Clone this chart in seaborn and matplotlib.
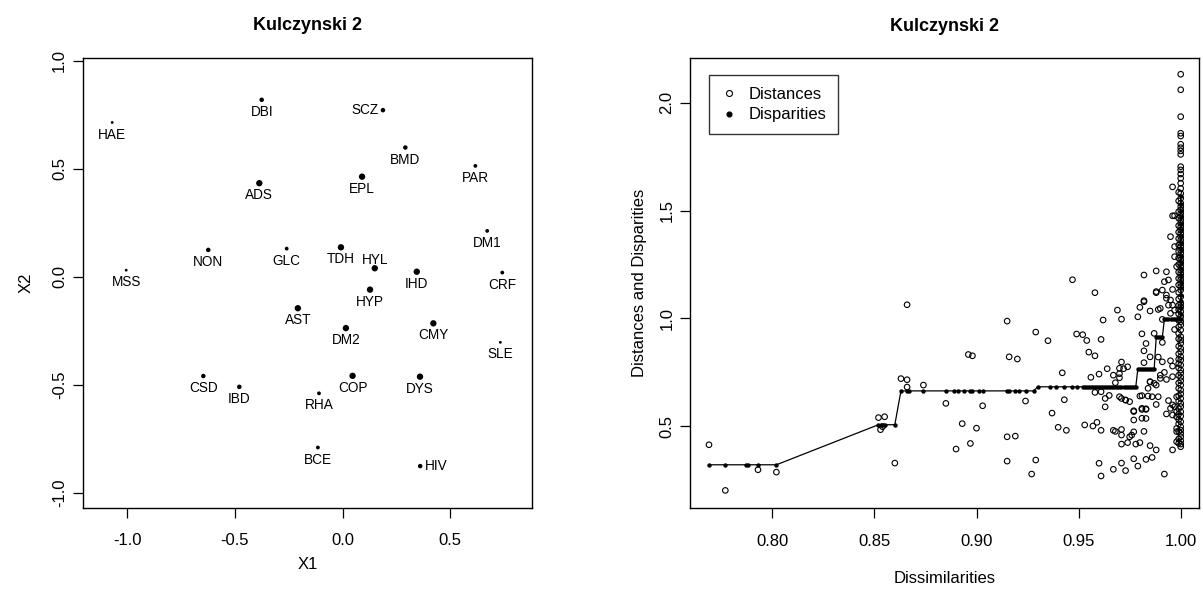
import matplotlib
matplotlib.use("Agg")
import matplotlib.pyplot as plt
import seaborn as sns
import pandas as pd
from matplotlib.lines import Line2D

# ---------------- data ----------------
codes = ["HAE", "DBI", "ADS", "NON", "GLC", "TDH", "MSS", "SCZ", "BMD", "PAR",
         "EPL", "DM1", "HYL", "IHD", "CRF", "HYP", "AST", "DM2", "CSD", "IBD",
         "COP", "RHA", "BCE", "CMY", "SLE", "DYS", "HIV"]
x1 = [-1.070, -0.376, -0.387, -0.624, -0.260, -0.008, -1.005, 0.187, 0.291, 0.616,
      0.090, 0.671, 0.149, 0.344, 0.741, 0.127, -0.208, 0.015, -0.647, -0.480,
      0.046, -0.110, -0.115, 0.421, 0.732, 0.359, 0.360]
x2 = [0.714, 0.819, 0.433, 0.124, 0.130, 0.136, 0.030, 0.771, 0.598, 0.513,
      0.463, 0.212, 0.039, 0.023, 0.019, -0.060, -0.146, -0.238, -0.460, -0.510,
      -0.459, -0.540, -0.791, -0.216, -0.304, -0.463, -0.877]
weight = [1, 3, 4, 3, 2, 4, 1, 3, 3, 2,
          4, 2, 4, 4, 2, 4, 4, 4, 3, 3,
          4, 2, 2, 4, 1, 4, 3]
label_side = ["below", "below", "below", "below", "below", "below", "below", "left", "below", "below",
              "below", "below", "above", "below", "below", "below", "below", "below", "below", "below",
              "below", "below", "below", "below", "below", "below", "right"]

# Shepard diagram: distances (open circles)
dist_x = [
    0.769, 0.777, 0.793, 0.802, 0.852, 0.855, 0.853, 0.854, 0.860, 0.866, 0.863, 0.866, 0.866, 0.874, 0.885,
    0.958, 0.969, 0.962, 0.971, 0.979, 0.980, 0.982, 0.988, 0.993, 0.994, 0.996, 0.989, 0.985, 0.991, 0.995,
    0.997, 0.915, 0.929, 0.935, 0.949, 0.952, 0.954, 0.961, 0.981, 0.987, 0.991, 0.997, 0.896, 0.898, 0.916,
    0.920, 0.955, 0.958, 0.971, 0.972, 0.964, 0.967, 0.960, 0.956, 0.942, 0.968, 0.970, 0.974, 0.982, 0.982,
    0.983, 0.985, 0.989, 0.991, 0.995, 0.996, 0.990, 0.993, 0.996, 0.985, 0.988, 0.903, 0.924, 0.943, 0.958,
    0.963, 0.963, 0.965, 0.971, 0.973, 0.975, 0.980, 0.984, 0.986, 0.988, 0.993, 0.995, 0.997, 0.981, 0.983,
    0.977, 0.977, 0.983, 0.937, 0.893, 0.900, 0.890, 0.897, 0.915, 0.919, 0.940, 0.944, 0.953, 0.957, 0.959,
    0.961, 0.967, 0.968, 0.971, 0.971, 0.975, 0.976, 0.977, 0.978, 0.974, 0.971, 0.980, 0.982, 0.985, 0.988,
    0.986, 0.983, 0.977, 0.979, 0.971, 0.973, 0.967, 0.960, 0.961, 0.915, 0.929, 0.927, 0.992, 0.996,
    0.996, 0.996, 0.997, 0.995, 0.997, 0.997, 0.998, 0.988, 0.993, 0.994, 0.992, 0.982, 0.947, 0.988, 0.991,
    0.996, 0.995, 0.993, 0.982, 0.990,
    0.970, 0.970, 0.961, 0.970, 0.973, 0.981, 0.983, 0.981, 0.981, 0.977, 0.985, 0.984, 0.987, 0.990, 0.992,
    0.989, 0.994, 0.996, 0.996, 0.998, 0.998, 0.998, 0.998, 0.998, 0.998,
    1.000, 1.000, 1.000, 1.000, 1.000, 1.000, 1.000, 1.000, 1.000, 1.000, 1.000, 1.000, 1.000, 1.000, 1.000,
    1.000, 1.000, 1.000, 1.000, 1.000, 1.000, 1.000, 1.000, 1.000, 1.000, 1.000, 1.000, 1.000, 1.000, 1.000,
    1.000, 1.000, 1.000, 1.000, 1.000, 1.000, 1.000, 1.000, 1.000, 1.000, 1.000, 1.000, 1.000, 1.000, 1.000,
    1.000, 1.000, 1.000, 1.000, 1.000, 1.000, 1.000, 1.000, 1.000, 1.000, 1.000, 1.000, 1.000, 1.000, 1.000,
    1.000, 1.000, 1.000, 1.000, 1.000, 1.000, 1.000, 1.000, 1.000, 1.000, 1.000, 1.000, 1.000, 1.000, 1.000,
    1.000, 1.000, 1.000, 1.000, 1.000,
    0.999, 0.999, 0.999, 0.999, 0.999, 0.999, 0.999, 0.999, 0.999, 0.999, 0.999, 0.999, 0.999, 0.999, 0.999,
    0.999, 0.999, 0.999, 0.999, 0.999, 0.999, 0.999, 0.999, 0.999, 0.999, 0.999, 0.999, 0.999, 0.999, 0.999,
    0.999, 0.999, 0.999, 0.999, 0.999, 0.999, 0.999, 0.999, 0.999, 0.999,
]
dist_y = [
    0.413, 0.201, 0.297, 0.286, 0.539, 0.543, 0.483, 0.497, 0.328, 1.063, 0.720, 0.715, 0.681, 0.690, 0.605,
    1.119, 1.038, 0.992, 0.996, 1.007, 1.051, 1.077, 1.119, 1.108, 1.061, 1.061, 1.041, 1.034, 0.995, 1.023,
    1.038, 0.987, 0.936, 0.896, 0.927, 0.924, 0.897, 0.902, 0.928, 0.930, 0.888, 0.948, 0.832, 0.826, 0.821,
    0.811, 0.843, 0.826, 0.797, 0.766, 0.766, 0.736, 0.741, 0.726, 0.747, 0.701, 0.743, 0.775, 0.794, 0.849,
    0.883, 0.821, 0.820, 0.798, 0.803, 0.778, 0.736, 0.716, 0.729, 0.705, 0.690, 0.594, 0.616, 0.622, 0.656,
    0.628, 0.589, 0.642, 0.628, 0.620, 0.613, 0.639, 0.639, 0.636, 0.600, 0.556, 0.582, 0.590, 0.582, 0.580,
    0.567, 0.528, 0.535, 0.560, 0.511, 0.490, 0.393, 0.419, 0.450, 0.453, 0.494, 0.480, 0.505, 0.500, 0.517,
    0.480, 0.480, 0.475, 0.484, 0.458, 0.450, 0.458, 0.473, 0.416, 0.423, 0.416, 0.423, 0.475, 0.409, 0.389,
    0.354, 0.345, 0.348, 0.314, 0.328, 0.293, 0.299, 0.327, 0.268, 0.337, 0.342, 0.277, 0.277, 0.389,
    1.610, 1.476, 1.476, 1.379, 1.333, 1.286, 1.240, 1.220, 1.216, 1.178, 1.170, 1.201, 1.179, 1.124, 1.131,
    1.134, 1.085, 1.093, 1.082, 1.046,
    0.724, 0.768, 0.659, 0.636, 0.621, 0.641, 0.577, 0.577, 0.536, 0.571, 0.706, 0.675, 0.698, 0.721, 0.749,
    0.636, 0.618, 0.598, 0.551, 0.636, 0.567, 0.543, 0.474, 0.427, 0.489,
    2.133, 2.061, 1.936, 1.859, 1.846, 1.808, 1.792, 1.777, 1.761, 1.704, 1.689, 1.670, 1.650, 1.627, 1.603,
    1.580, 1.557, 1.534, 1.518, 1.503, 1.487, 1.472, 1.456, 1.441, 1.425, 1.410, 1.394, 1.379, 1.363, 1.348,
    1.333, 1.317, 1.302, 1.286, 1.271, 1.255, 1.240, 1.224, 1.209, 1.193, 1.178, 1.162, 1.147, 1.131, 1.100,
    1.069, 1.054, 1.031, 1.008, 0.984, 0.969, 0.946, 0.915, 0.899, 0.884, 0.860, 0.845, 0.822, 0.806, 0.783,
    0.760, 0.745, 0.726, 0.710, 0.690, 0.667, 0.649, 0.628, 0.605, 0.590, 0.566, 0.546, 0.520, 0.497, 0.481,
    0.466, 0.450, 0.432, 0.416, 0.404,
    1.585, 1.545, 1.495, 1.465, 1.430, 1.400, 1.370, 1.340, 1.310, 1.280, 1.250, 1.215, 1.185, 1.155, 1.120,
    1.090, 1.060, 1.040, 1.020, 0.990, 0.960, 0.930, 0.905, 0.870, 0.835, 0.810, 0.790, 0.770, 0.735, 0.700,
    0.675, 0.640, 0.615, 0.580, 0.555, 0.530, 0.510, 0.475, 0.440, 0.420,
]

# Shepard diagram: disparities (filled dots joined by a line)
disp_x = [
    0.769, 0.777, 0.787, 0.788, 0.793, 0.802,
    0.852, 0.853, 0.854, 0.855, 0.860,
    0.863, 0.866, 0.867, 0.874, 0.885, 0.889, 0.891, 0.894, 0.897, 0.898, 0.901, 0.903, 0.915, 0.916, 0.919,
    0.921, 0.924, 0.928,
    0.930, 0.936, 0.939, 0.943, 0.947, 0.949, 0.952, 0.953, 0.954, 0.955, 0.956, 0.957, 0.958, 0.959, 0.960,
    0.961, 0.962, 0.963, 0.964, 0.965, 0.966, 0.967, 0.968, 0.969, 0.970, 0.971, 0.972, 0.973, 0.974, 0.975,
    0.976, 0.977, 0.978,
    0.979, 0.980, 0.981, 0.982, 0.983, 0.984, 0.985, 0.986, 0.987,
    0.988, 0.989, 0.990, 0.991,
    0.992, 0.993, 0.994, 0.995, 0.996, 0.997, 0.998, 0.999, 1.000,
    1.000, 1.000, 1.000, 1.000, 1.000, 1.000, 1.000, 1.000, 1.000, 1.000, 1.000, 1.000, 1.000, 1.000, 1.000,
    1.000, 1.000, 1.000, 1.000,
]
disp_y = [
    0.320, 0.320, 0.320, 0.320, 0.320, 0.320,
    0.506, 0.506, 0.506, 0.506, 0.506,
    0.663, 0.663, 0.663, 0.663, 0.663, 0.663, 0.663, 0.663, 0.663, 0.663, 0.663, 0.663, 0.663, 0.663, 0.663,
    0.663, 0.663, 0.663,
    0.682, 0.682, 0.682, 0.682, 0.682, 0.682, 0.682, 0.682, 0.682, 0.682, 0.682, 0.682, 0.682, 0.682, 0.682,
    0.682, 0.682, 0.682, 0.682, 0.682, 0.682, 0.682, 0.682, 0.682, 0.682, 0.682, 0.682, 0.682, 0.682, 0.682,
    0.682, 0.682, 0.682,
    0.765, 0.765, 0.765, 0.765, 0.765, 0.765, 0.765, 0.765, 0.765,
    0.912, 0.912, 0.912, 0.912,
    0.995, 0.995, 0.995, 0.995, 0.995, 0.995, 0.995, 0.995, 0.995,
    1.020, 1.050, 1.080, 1.110, 1.140, 1.170, 1.200, 1.230, 1.260, 1.290, 1.320, 1.350, 1.380, 1.410, 1.440,
    1.470, 1.500, 1.530, 1.570,
]

title_text = "Kulczynski 2"
left_xticks = [-1.0, -0.5, 0.0, 0.5]
left_yticks = [-1.0, -0.5, 0.0, 0.5, 1.0]
right_xticks = [0.80, 0.85, 0.90, 0.95, 1.00]
right_yticks = [0.5, 1.0, 1.5, 2.0]

# ---------------- style ----------------
sns.set_theme(style="ticks")
plt.rcParams["font.family"] = ["Liberation Sans", "DejaVu Sans"]
plt.rcParams.update({
    "axes.edgecolor": "black",
    "axes.linewidth": 1.0,
    "xtick.color": "black",
    "ytick.color": "black",
    "xtick.direction": "out",
    "ytick.direction": "out",
    "xtick.major.size": 7.2,
    "ytick.major.size": 7.2,
    "xtick.major.width": 0.9,
    "ytick.major.width": 0.9,
    "axes.unicode_minus": False,
    "text.color": "black",
    "axes.labelcolor": "black",
})

W, H = 1203, 591
fig = plt.figure(figsize=(W / 100, H / 100), dpi=100)
fig.patch.set_facecolor("white")
ax1 = fig.add_axes([82.7 / W, (H - 508.0) / H, (532.0 - 82.7) / W, 450.0 / H])
ax2 = fig.add_axes([690.0 / W, (H - 508.3) / H, (1199.3 - 690.0) / W, 450.0 / H])

TICK_FS = 12
# ---------------- left: configuration ----------------
df = pd.DataFrame({"code": codes, "X1": x1, "X2": x2, "w": weight})
sns.scatterplot(data=df, x="X1", y="X2", size="w",
                sizes={1: 4.0, 2: 7.5, 3: 10.5, 4: 21.0},
                color="black", linewidth=0, legend=False, ax=ax1, zorder=3)
offsets = {"below": ((0, -8.7), "center", "center"),
           "above": ((0, 6.2), "center", "center"),
           "left": ((-3.4, 0), "right", "center"),
           "right": ((3.4, 0), "left", "center")}
for c, xv, yv, side in zip(codes, x1, x2, label_side):
    off, ha, va = offsets[side]
    ax1.annotate(c, (xv, yv), xytext=off, textcoords="offset points",
                 ha=ha, va=va, fontsize=9.8)
ax1.set_xlim(-1.207, 0.879)
ax1.set_ylim(-1.071, 1.0125)
ax1.set_xticks(left_xticks)
ax1.set_xticklabels(["%.1f" % v for v in left_xticks])
ax1.set_yticks(left_yticks)
ax1.set_yticklabels(["%.1f" % v for v in left_yticks], rotation=90, va="center")
ax1.set_xlabel("X1", fontsize=TICK_FS, labelpad=6)
ax1.set_ylabel("X2", fontsize=TICK_FS, labelpad=13)
ax1.set_title(title_text, fontsize=13, fontweight="bold", pad=20)

# ---------------- right: Shepard diagram ----------------
ddf = pd.DataFrame({"d": dist_x, "dist": dist_y})
pdf = pd.DataFrame({"d": disp_x, "disp": disp_y})
sns.scatterplot(data=ddf, x="d", y="dist", marker="o", s=16,
                facecolors="none", edgecolor="black", linewidth=0.8,
                legend=False, ax=ax2, zorder=2)
sns.lineplot(data=pdf, x="d", y="disp", sort=False, estimator=None,
             color="black", linewidth=0.9, ax=ax2, zorder=3)
sns.scatterplot(data=pdf, x="d", y="disp", marker="o", s=10,
                color="black", linewidth=0, legend=False, ax=ax2, zorder=4)
ax2.set_xlim(0.7597, 1.0091)
ax2.set_ylim(0.118, 2.207)
ax2.set_xticks(right_xticks)
ax2.set_xticklabels(["%.2f" % v for v in right_xticks])
ax2.set_yticks(right_yticks)
ax2.set_yticklabels(["%.1f" % v for v in right_yticks], rotation=90, va="center")
ax2.set_xlabel("Dissimilarities", fontsize=TICK_FS, labelpad=16)
ax2.set_ylabel("Distances and Disparities", fontsize=TICK_FS, labelpad=9)
ax2.set_title(title_text, fontsize=13, fontweight="bold", pad=20)

handles = [Line2D([], [], linestyle="none", marker="o", markersize=4.3,
                  markerfacecolor="none", markeredgecolor="black", markeredgewidth=0.8),
           Line2D([], [], linestyle="none", marker="o", markersize=3.4,
                  markerfacecolor="black", markeredgecolor="black")]
leg = ax2.legend(handles, ["Distances", "Disparities"], loc="upper left",
                 bbox_to_anchor=((709.3 - 690.0) / 509.3, (508.3 - 75.0) / 450.0),
                 borderaxespad=0, fontsize=12, frameon=True, fancybox=False,
                 handlelength=1.0, handletextpad=0.65, borderpad=0.7,
                 labelspacing=0.35)
leg.get_frame().set_edgecolor("black")
leg.get_frame().set_linewidth(1.0)

for ax in (ax1, ax2):
    for s in ax.spines.values():
        s.set_visible(True)
        s.set_color("black")
    ax.tick_params(axis="x", labelsize=TICK_FS, pad=11)
    ax.tick_params(axis="y", labelsize=TICK_FS, pad=4)
    ax.set_facecolor("white")

fig.savefig("out.png", dpi=100, facecolor="white")
